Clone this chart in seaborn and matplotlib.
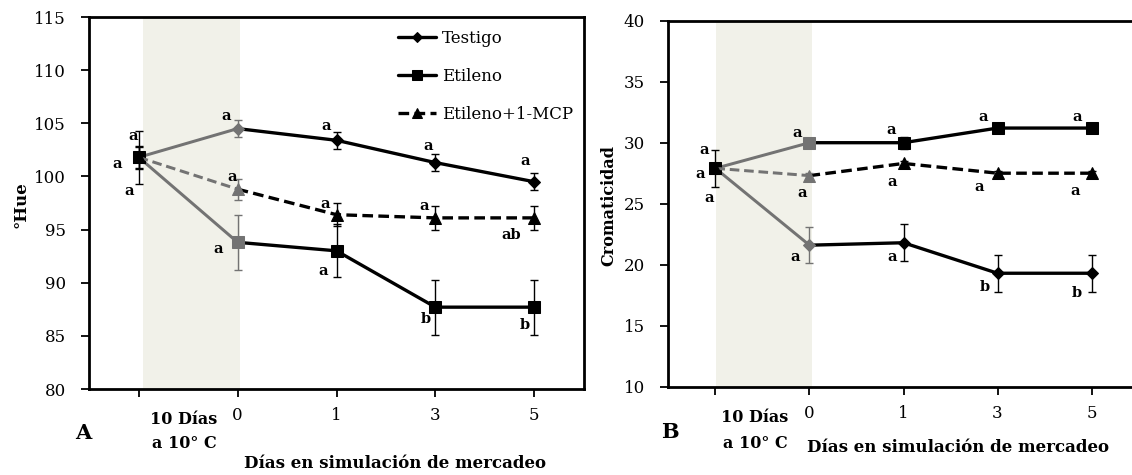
import numpy as np
import pandas as pd
import matplotlib
matplotlib.use("Agg")
import matplotlib.pyplot as plt
import seaborn as sns

# ---------------- data ----------------
positions = [0, 1, 2, 3, 4]
day_labels = ["", "0", "1", "3", "5"]
series_names = ["Testigo", "Etileno", "Etileno+1-MCP"]

hue_testigo = [101.8, 104.5, 103.4, 101.3, 99.5]
hue_testigo_err = [1.0, 0.8, 0.8, 0.8, 0.8]
hue_etileno = [101.8, 93.8, 93.0, 87.7, 87.7]
hue_etileno_err = [2.5, 2.6, 2.5, 2.6, 2.6]
hue_mcp = [101.8, 98.8, 96.4, 96.1, 96.1]
hue_mcp_err = [1.1, 1.0, 1.1, 1.1, 1.1]

cro_testigo = [27.9, 21.6, 21.8, 19.3, 19.3]
cro_testigo_err = [1.5, 1.5, 1.5, 1.5, 1.5]
cro_etileno = [27.9, 30.0, 30.0, 31.2, 31.2]
cro_etileno_err = [0.4, 0.4, 0.5, 0.4, 0.4]
cro_mcp = [27.9, 27.3, 28.3, 27.5, 27.5]
cro_mcp_err = [0.2, 0.2, 0.2, 0.2, 0.2]

hue_letters_testigo = ["a", "a", "a", "a", "a"]
hue_letters_etileno = ["a", "a", "a", "b", "b"]
hue_letters_mcp = ["a", "a", "a", "a", "ab"]
cro_letters_testigo = ["a", "a", "a", "b", "b"]
cro_letters_etileno = ["a", "a", "a", "a", "a"]
cro_letters_mcp = ["a", "a", "a", "a", "a"]

# ---------------- style ----------------
sns.set_style("white")
SERIF = ['DejaVu Serif']
plt.rcParams['font.family'] = SERIF
plt.rcParams['font.serif'] = SERIF
plt.rcParams['font.size'] = 11
plt.rcParams['text.color'] = 'black'
plt.rcParams['xtick.bottom'] = True
plt.rcParams['ytick.left'] = True

GRAY = "#737373"
SHADE = "#f1f1e9"
LW = 2.4

fig = plt.figure(figsize=(11.32, 4.75), dpi=100)
W, H = 1132, 475


def px_axes(x0, y0, x1, y1):
    return fig.add_axes([x0 / W, 1 - y1 / H, (x1 - x0) / W, (y1 - y0) / H])


axA = px_axes(89.3, 17, 583.7, 389)
axB = px_axes(668.4, 20.7, 1138.6, 386.7)

markers = {"Testigo": "D", "Etileno": "s", "Etileno+1-MCP": "^"}
msizes = {"Testigo": 6.5, "Etileno": 9, "Etileno+1-MCP": 8.5}
styles = {"Testigo": "-", "Etileno": "-", "Etileno+1-MCP": (0, (3.2, 1.6))}


def draw_series(ax, name, vals, errs, label=True):
    m = markers[name]
    ms = msizes[name]
    ls = styles[name]
    sns.lineplot(x=positions[:2], y=vals[:2], ax=ax, color=GRAY, lw=LW * 0.9,
                 linestyle=ls, legend=False)
    sns.lineplot(x=positions[1:], y=vals[1:], ax=ax, color="black", lw=LW,
                 linestyle=ls, marker=m, markersize=ms, markevery=[1, 2, 3],
                 markeredgecolor="black", label=name if label else None,
                 legend=False)
    ax.errorbar([positions[0]] + positions[2:], [vals[0]] + vals[2:],
                yerr=[errs[0]] + errs[2:], fmt="none", ecolor="black",
                elinewidth=1, capsize=3, capthick=1, zorder=4)
    ax.errorbar(positions[1:2], vals[1:2], yerr=errs[1:2], fmt="none",
                ecolor=GRAY, elinewidth=1, capsize=3, capthick=1, zorder=4)
    sns.lineplot(x=positions[1:2], y=vals[1:2], ax=ax, color=GRAY,
                 linestyle="none", marker=m, markersize=ms,
                 markeredgecolor=GRAY, legend=False)
    sns.lineplot(x=positions[0:1], y=vals[0:1], ax=ax, color="black",
                 linestyle="none", marker=m, markersize=ms,
                 markeredgecolor="black", legend=False)


def letters(ax, vals, labs, offs):
    for p, v, t, (dx, dy) in zip(positions, vals, labs, offs):
        ax.annotate(t, (p, v), xytext=(dx, dy), textcoords="offset pixels",
                    ha="center", va="center", fontsize=10.5, fontweight="bold",
                    family=SERIF, color="black", zorder=6)


def setup(ax, ylim, yticks, shade):
    ax.add_patch(plt.Rectangle((shade[0], ylim[0]), shade[1] - shade[0],
                               ylim[1] - ylim[0], color=SHADE, zorder=0, lw=0))
    ax.set_xlim(-0.5, 4.5)
    ax.set_ylim(*ylim)
    ax.set_yticks(list(yticks))
    ax.set_xticks(positions)
    ax.set_xticklabels(day_labels)
    ax.tick_params(axis="both", direction="out", length=5.5, width=1.3,
                   colors="black", labelcolor="black", labelsize=12,
                   bottom=True, left=True, labelfontfamily="DejaVu Serif")
    ax.tick_params(axis="x", pad=7.5)
    ax.tick_params(axis="y", pad=11.5)
    for lbl in ax.get_xticklabels() + ax.get_yticklabels():
        lbl.set_fontfamily(SERIF)
    for s in ax.spines.values():
        s.set_color("black")
        s.set_linewidth(2)
    ax.set_facecolor("white")
    ax.set_ylabel("")
    ax.set_xlabel("")
    ax.grid(False)


# ---------- Panel A ----------
draw_series(axA, "Testigo", hue_testigo, hue_testigo_err)
draw_series(axA, "Etileno", hue_etileno, hue_etileno_err)
draw_series(axA, "Etileno+1-MCP", hue_mcp, hue_mcp_err)
setup(axA, (80, 115), range(80, 116, 5), (0.04, 1.02))

letters(axA, hue_testigo, hue_letters_testigo,
        [(-6, 21), (-11, 13), (-10, 14), (-7, 17), (-9, 21)])
letters(axA, hue_mcp, hue_letters_mcp,
        [(-10, -34), (-5, 12), (-11, 11), (-11, 12), (-23, -17)])
letters(axA, hue_etileno, hue_letters_etileno,
        [(-22, -7), (-19, -7), (-13, -20), (-10, -12), (-9, -18)])

leg = axA.legend(loc="upper left", bbox_to_anchor=(398 / W, 1 - 30 / H),
                 bbox_transform=fig.transFigure, frameon=False,
                 prop={"family": SERIF, "size": 12},
                 handlelength=2.3, handletextpad=0.35, labelspacing=1.25,
                 borderpad=0, borderaxespad=0)
for t in leg.get_texts():
    t.set_color("black")
for h in leg.legend_handles:
    h.set_markersize(h.get_markersize() * 0.8)

# ---------- Panel B ----------
draw_series(axB, "Testigo", cro_testigo, cro_testigo_err, label=False)
draw_series(axB, "Etileno", cro_etileno, cro_etileno_err, label=False)
draw_series(axB, "Etileno+1-MCP", cro_mcp, cro_mcp_err, label=False)
setup(axB, (10, 40), range(10, 41, 5), (0.01, 1.03))

letters(axB, cro_etileno, cro_letters_etileno,
        [(-11, 18), (-12, 10), (-12, 13), (-14, 11), (-14, 11)])
letters(axB, cro_testigo, cro_letters_testigo,
        [(-15, -6), (-14, -12), (-11, -14), (-13, -14), (-15, -20)])
letters(axB, cro_mcp, cro_letters_mcp,
        [(-6, -30), (-7, -17), (-11, -19), (-18, -14), (-16, -18)])

# ---------- figure texts ----------
def ftext(x, y, s, **kw):
    fig.text(x / W, 1 - y / H, s, ha="center", va="center", family=SERIF,
             color="black", **kw)

ftext(21, 205, "°Hue", rotation=90, fontsize=12, fontweight="bold")
ftext(609, 205, "Cromaticidad", rotation=90, fontsize=11.5, fontweight="bold")
ftext(184, 419, "10 Días", fontsize=11.5, fontweight="bold")
ftext(184.5, 444, "a 10° C", fontsize=11.5, fontweight="bold")
ftext(754.5, 417, "10 Días", fontsize=11.5, fontweight="bold")
ftext(755, 444, "a 10° C", fontsize=11.5, fontweight="bold")
ftext(83, 433, "A", fontsize=15, fontweight="bold")
ftext(669.5, 432, "B", fontsize=15, fontweight="bold")
ftext(394.6, 463, "Días en simulación de mercadeo", fontsize=12, fontweight="bold")
ftext(957.6, 448, "Días en simulación de mercadeo", fontsize=12, fontweight="bold")

fig.savefig("out.png", dpi=100, facecolor="white")
